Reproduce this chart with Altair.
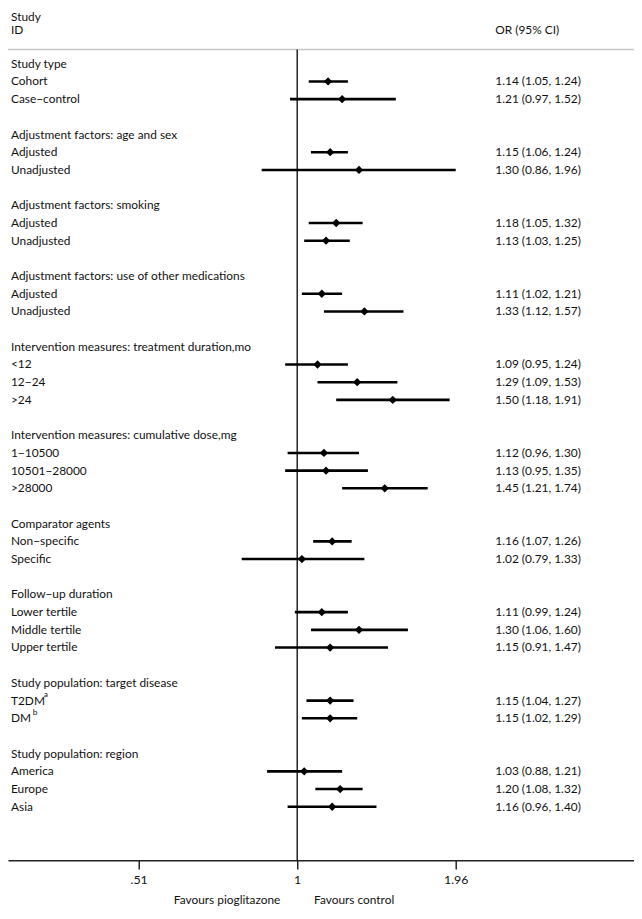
import altair as alt
import pandas as pd

# ---------------- data ----------------
labels = [
    "Study type", "Cohort", "Case\u2212control", "",
    "Adjustment factors: age and sex", "Adjusted", "Unadjusted", "",
    "Adjustment factors: smoking", "Adjusted", "Unadjusted", "",
    "Adjustment factors: use of other medications", "Adjusted", "Unadjusted", "",
    "Intervention measures: treatment duration,mo", "<12", "12\u221224", ">24", "",
    "Intervention measures: cumulative dose,mg", "1\u221210500", "10501\u221228000", ">28000", "",
    "Comparator agents", "Non\u2212specific", "Specific", "",
    "Follow\u2212up duration", "Lower tertile", "Middle tertile", "Upper tertile", "",
    "Study population: target disease", "T2DM", "DM", "",
    "Study population: region", "America", "Europe", "Asia",
]
or_vals = [None, 1.14, 1.21, None,
           None, 1.15, 1.30, None,
           None, 1.18, 1.13, None,
           None, 1.11, 1.33, None,
           None, 1.09, 1.29, 1.50, None,
           None, 1.12, 1.13, 1.45, None,
           None, 1.16, 1.02, None,
           None, 1.11, 1.30, 1.15, None,
           None, 1.15, 1.15, None,
           None, 1.03, 1.20, 1.16]
lo_vals = [None, 1.05, 0.97, None,
           None, 1.06, 0.86, None,
           None, 1.05, 1.03, None,
           None, 1.02, 1.12, None,
           None, 0.95, 1.09, 1.18, None,
           None, 0.96, 0.95, 1.21, None,
           None, 1.07, 0.79, None,
           None, 0.99, 1.06, 0.91, None,
           None, 1.04, 1.02, None,
           None, 0.88, 1.08, 0.96]
hi_vals = [None, 1.24, 1.52, None,
           None, 1.24, 1.96, None,
           None, 1.32, 1.25, None,
           None, 1.21, 1.57, None,
           None, 1.24, 1.53, 1.91, None,
           None, 1.30, 1.35, 1.74, None,
           None, 1.26, 1.33, None,
           None, 1.24, 1.60, 1.47, None,
           None, 1.27, 1.29, None,
           None, 1.21, 1.32, 1.40]
superscripts = ["a", "b"]
superscript_rows = [36, 37]
x_ticks = [0.51, 1, 1.96]
tick_labels = [".51", "1", "1.96"]
left_note = "Favours pioglitazone"
right_note = "Favours control"

# ---------------- tables ----------------
df = pd.DataFrame({"row": list(range(len(labels))), "label": labels,
                   "or": or_vals, "lo": lo_vals, "hi": hi_vals})
est = df.dropna(subset=["or"]).copy()
est["ci"] = [f"{o:.2f} ({l:.2f}, {h:.2f})" for o, l, h in zip(est["or"], est["lo"], est["hi"])]
sup_df = pd.DataFrame({"row": superscript_rows, "t": superscripts, "px": [36, 25]})

W, H = 632, 856
FONT = "Lato"
TXT = "#111111"
TOP_ROW = -0.81
AXIS_ROW = 45.02
FAV_ROW = 47.3

xs = alt.Scale(type="log", domain=[0.2929, 4.178], nice=False)
ys = alt.Scale(domain=[AXIS_ROW, -2.9115], nice=False, zero=False)

label_expr = " : ".join(
    f"datum.value < {v * 1.05:.3f} ? '{t}'" for v, t in zip(x_ticks[:-1], tick_labels[:-1])
) + f" : '{tick_labels[-1]}'"

x_axis = alt.Axis(values=x_ticks, labelExpr=label_expr, title=None, grid=False,
                  domainColor="#222222", domainWidth=1.5, tickColor="#222222",
                  tickWidth=1.5, tickSize=9, labelFont=FONT, labelFontSize=12.5,
                  labelColor=TXT, labelPadding=5, labelFlush=False)

top_line = alt.Chart(pd.DataFrame({"y": [TOP_ROW]})).mark_rule(
    color="#c8c8c8", strokeWidth=1.5
).encode(x=alt.value(0), x2=alt.value(W), y=alt.Y("y:Q", scale=ys, axis=None))

vline = alt.Chart(pd.DataFrame({"x": [1], "y1": [TOP_ROW], "y2": [AXIS_ROW]})).mark_rule(
    color="#222222", strokeWidth=1.5
).encode(x=alt.X("x:Q", scale=xs, axis=x_axis),
         y=alt.Y("y1:Q", scale=ys, axis=None), y2="y2:Q")

ci = alt.Chart(est).mark_rule(color="#000000", strokeWidth=2.6).encode(
    x=alt.X("lo:Q", scale=xs, axis=x_axis), x2="hi:Q",
    y=alt.Y("row:Q", scale=ys, axis=None))

pts = alt.Chart(est).mark_point(shape="diamond", filled=True, size=70,
                                color="#000000", opacity=1).encode(
    x=alt.X("or:Q", scale=xs, axis=x_axis),
    y=alt.Y("row:Q", scale=ys, axis=None))

lab = alt.Chart(df[df["label"] != ""]).mark_text(
    align="left", baseline="middle", font=FONT, fontSize=12, color=TXT
).encode(x=alt.value(3), y=alt.Y("row:Q", scale=ys, axis=None), text="label:N")

ci_txt = alt.Chart(est).mark_text(
    align="left", baseline="middle", font=FONT, fontSize=12, color=TXT
).encode(x=alt.value(492), y=alt.Y("row:Q", scale=ys, axis=None), text="ci:N")

sup = alt.Chart(sup_df).mark_text(
    align="left", baseline="middle", font=FONT, fontSize=8.5, color=TXT, dy=-6.3
).encode(x=alt.X("px:Q", scale=None), y=alt.Y("row:Q", scale=ys, axis=None), text="t:N")

hdr_study = alt.Chart(pd.DataFrame({"y": [-2.9115], "t": ["Study"]})).mark_text(
    align="left", baseline="top", font=FONT, fontSize=12, color=TXT
).encode(x=alt.value(3), y=alt.Y("y:Q", scale=ys, axis=None), text="t:N")

hdr_id = alt.Chart(pd.DataFrame({"y": [-1.88, -1.88], "t": ["ID", "OR (95% CI)"],
                                 "px": [3, 492]})).mark_text(
    align="left", baseline="middle", font=FONT, fontSize=12, color=TXT
).encode(x=alt.X("px:Q", scale=None), y=alt.Y("y:Q", scale=ys, axis=None), text="t:N")

fav_l = alt.Chart(pd.DataFrame({"x": [1], "y": [FAV_ROW], "t": [left_note]})).mark_text(
    align="right", baseline="middle", font=FONT, fontSize=12, color=TXT, dx=-17
).encode(x=alt.X("x:Q", scale=xs, axis=x_axis), y=alt.Y("y:Q", scale=ys, axis=None), text="t:N")

fav_r = alt.Chart(pd.DataFrame({"x": [1], "y": [FAV_ROW], "t": [right_note]})).mark_text(
    align="left", baseline="middle", font=FONT, fontSize=12, color=TXT, dx=17
).encode(x=alt.X("x:Q", scale=xs, axis=x_axis), y=alt.Y("y:Q", scale=ys, axis=None), text="t:N")

chart = alt.layer(
    top_line, vline, ci, pts, lab, ci_txt, sup, hdr_study, hdr_id, fav_l, fav_r
).properties(
    width=W, height=H,
    autosize=alt.AutoSizeParams(type="none"),
    padding={"left": 0, "top": 0, "right": 0, "bottom": 46},
).configure_view(stroke=None)

chart.save("out.html", embed_options={"renderer": "svg", "actions": False})
